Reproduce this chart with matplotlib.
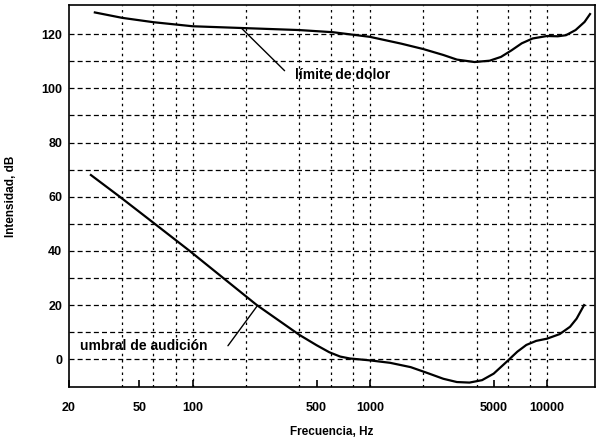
import numpy as np
import matplotlib.pyplot as plt

plt.rcParams['font.family'] = ['Liberation Sans', 'DejaVu Sans']

# limite de dolor (Hz, dB)
dolor_f = [28, 40, 60, 100, 200, 400, 620, 1000, 1500, 2000, 2600, 3100, 3900, 4750, 5500, 6300, 7200, 8300, 10000, 11500, 12800, 14500, 16300, 17500]
dolor_db = [128, 126, 124.4, 122.9, 122.2, 121.5, 120.7, 119, 116.5, 114.5, 112.3, 110.6, 109.7, 110.2, 111.6, 114, 116.6, 118.4, 119.3, 119.2, 119.6, 121.5, 124.5, 127.4]

# umbral de audicion (Hz, dB)
umbral_f = [26.6, 38.7, 55.7, 96, 230, 400, 500, 590, 680, 770, 1000, 1300, 1700, 2100, 2600, 3100, 3650, 4300, 5000, 5900, 6800, 7650, 8700, 10000, 11800, 13500, 14700, 16200]
umbral_db = [68, 60, 52, 40, 20, 9.0, 5.2, 2.6, 1.0, 0.3, -0.4, -1.3, -2.9, -5.0, -7.2, -8.4, -8.6, -7.7, -5.3, -1.0, 2.8, 5.3, 6.8, 7.6, 9.3, 12.0, 15.0, 20.0]

vgrid = [40, 60, 80, 100, 200, 400, 600, 800, 1000, 2000, 4000, 6000, 8000, 10000]
hgrid = [0, 10, 20, 30, 40, 50, 60, 70, 80, 90, 100, 110, 120]
xticks = [20, 50, 100, 500, 1000, 5000, 10000]
yticks = [0, 20, 40, 60, 80, 100, 120]

fig = plt.figure(figsize=(6.05, 4.42), dpi=100)
ax = fig.add_axes([0.114, 0.124, 0.869, 0.865])

for v in vgrid:
    ax.axvline(v, color='black', lw=0.9, ls=(0, (2, 3)), zorder=1)
for h in hgrid:
    ax.axhline(h, color='black', lw=0.9, ls=(0, (4, 2.5)), zorder=1)

ax.plot(dolor_f, dolor_db, color='black', lw=1.6, zorder=3)
ax.plot(umbral_f, umbral_db, color='black', lw=1.6, zorder=3)

ax.set_xscale('log')
ax.set_xlim(20, 18600)
ax.set_ylim(-10.3, 130.8)

ax.set_xticks(xticks)
ax.set_xticklabels([str(t) for t in xticks])
ax.minorticks_off()
ax.set_yticks(yticks)
ax.tick_params(axis='x', direction='in', length=5, width=1.2, pad=11, labelsize=9)
ax.tick_params(axis='y', length=0, pad=5, labelsize=9)
for lab in ax.get_xticklabels() + ax.get_yticklabels():
    lab.set_fontweight('bold')

for s in ax.spines.values():
    s.set_linewidth(1.2)

ax.set_xlabel('Frecuencia, Hz', fontsize=8.5, fontweight='bold', labelpad=8)
ax.set_ylabel('Intensidad, dB', fontsize=8.5, fontweight='bold', labelpad=17)

ax.text(380, 105, 'límite de dolor', fontsize=10, fontweight='bold', va='center', ha='left')
ax.annotate('', xy=(187, 122.4), xytext=(330, 106.5),
            arrowprops=dict(arrowstyle='-', color='black', lw=1.0, shrinkA=0, shrinkB=0))
ax.text(23, 5, 'umbral de audición', fontsize=10, fontweight='bold', va='center', ha='left')
ax.annotate('', xy=(230, 19.5), xytext=(158, 5),
            arrowprops=dict(arrowstyle='-', color='black', lw=1.0, shrinkA=0, shrinkB=0))

fig.savefig('out.png', dpi=100)
